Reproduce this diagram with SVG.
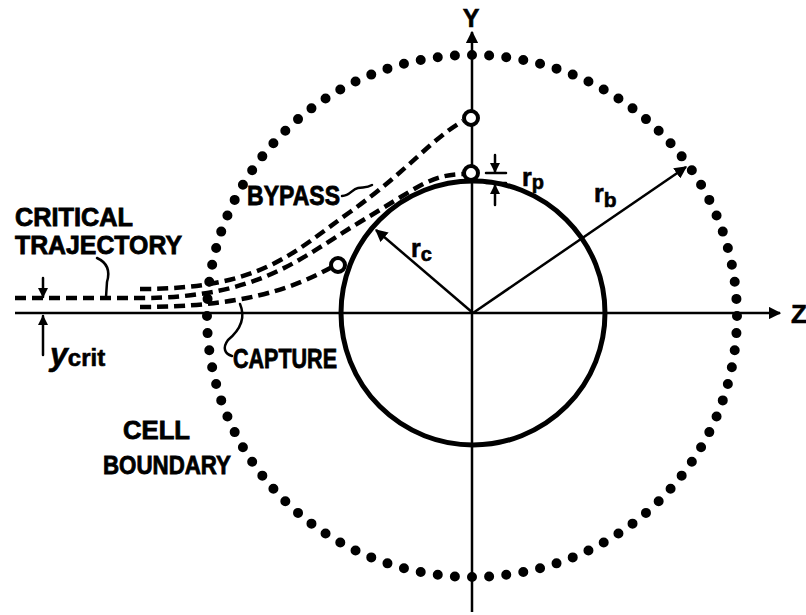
<svg xmlns="http://www.w3.org/2000/svg" width="806" height="615" viewBox="0 0 806 615">
<style>
.lbl{font-family:"Liberation Sans","DejaVu Sans",sans-serif;font-weight:bold;font-size:27px;fill:#000;stroke:#000;stroke-width:0.8}
.sm{font-size:25px}
.sym{font-family:"Liberation Sans","DejaVu Sans",sans-serif;font-weight:bold;fill:#000;stroke:#000;stroke-width:0.6}
.dash{fill:none;stroke:#000;stroke-width:4.5;stroke-dasharray:11 6}
.ln{fill:none;stroke:#000;stroke-width:2.5}
.lead{fill:none;stroke:#000;stroke-width:2.5;stroke-linecap:round}
</style>
<defs>
<marker id="ah" viewBox="0 0 10 10" refX="9" refY="5" markerWidth="5" markerHeight="5" orient="auto" markerUnits="strokeWidth">
<path d="M0,0 L10,5 L0,10 Z" fill="#000"/>
</marker>
<marker id="ahs" viewBox="0 0 10 10" refX="9" refY="5" markerWidth="4" markerHeight="4" orient="auto" markerUnits="strokeWidth">
<path d="M0,0 L10,5 L0,10 Z" fill="#000"/>
</marker>
</defs>
<rect width="806" height="615" fill="#fff"/>

<g id="cell-boundary">
<ellipse cx="472" cy="316" rx="265" ry="261" fill="none" stroke="#000" stroke-width="10" stroke-linecap="round" pathLength="96" stroke-dasharray="0 1"/>
</g>

<g id="collector">
<circle cx="473" cy="313" r="132" fill="none" stroke="#000" stroke-width="5"/>
</g>

<g id="connectors">
<line id="z-axis" class="ln" x1="15" y1="313" x2="780" y2="313" marker-end="url(#ah)"/>
<line id="y-axis" class="ln" x1="472" y1="612" x2="472" y2="32" marker-end="url(#ah)"/>
<line id="rc-line" class="ln" x1="473" y1="313" x2="376" y2="230" marker-end="url(#ah)"/>
<line id="rb-line" class="ln" x1="473" y1="313" x2="686" y2="167" marker-end="url(#ah)"/>
<path id="traj-bypass" class="dash" d="M140,289 C260,289 290,255 350,212 S430,140 463,121"/>
<path id="traj-critical" class="dash" d="M15,298 L140,298 C260,298 300,258 360,222 S430,175 463,174"/>
<path id="traj-capture" class="dash" d="M140,307 C240,307 290,290 332,267"/>
<path id="leader-critical" class="lead" d="M97,258 C108,263 110,272 107,282 L106,297"/>
<path id="leader-bypass" class="lead" d="M342,196 C350,196 352,189 358,188 C364,187 367,188 372,185"/>
<path id="leader-capture" class="lead" d="M240,304 C246,318 240,330 228,340 C222,348 225,354 232,356"/>
<line id="ycrit-down" class="lead" x1="43" y1="278" x2="43" y2="297" marker-end="url(#ahs)"/>
<line id="ycrit-up" class="lead" x1="43" y1="355" x2="43" y2="316" marker-end="url(#ahs)"/>
<line id="rp-down" class="lead" x1="495" y1="155" x2="495" y2="172" marker-end="url(#ahs)"/>
<line id="rp-up" class="lead" x1="495" y1="205" x2="495" y2="185" marker-end="url(#ahs)"/>
<line class="lead" x1="486" y1="173" x2="506" y2="173"/>
<line class="lead" x1="486" y1="183" x2="506" y2="183"/>
</g>

<g id="particle-bypass">
<circle cx="471" cy="118" r="7" fill="#fff" stroke="#000" stroke-width="4"/>
</g>
<g id="particle-critical">
<circle cx="471" cy="173" r="7" fill="#fff" stroke="#000" stroke-width="4"/>
</g>
<g id="particle-capture">
<circle cx="338" cy="265" r="7" fill="#fff" stroke="#000" stroke-width="4"/>
</g>

<g id="labels">
<text class="lbl sm" x="15" y="226" textLength="118" lengthAdjust="spacingAndGlyphs">CRITICAL</text>
<text class="lbl sm" x="15" y="254" textLength="167" lengthAdjust="spacingAndGlyphs">TRAJECTORY</text>
<text class="lbl" x="247" y="205" textLength="93" lengthAdjust="spacingAndGlyphs">BYPASS</text>
<text class="lbl" x="233" y="368" textLength="104" lengthAdjust="spacingAndGlyphs">CAPTURE</text>
<text class="lbl sm" x="123" y="439" textLength="67" lengthAdjust="spacingAndGlyphs">CELL</text>
<text class="lbl sm" x="103" y="474" textLength="128" lengthAdjust="spacingAndGlyphs">BOUNDARY</text>
<text class="sym" x="471" y="27" font-size="25" text-anchor="middle">Y</text>
<text class="sym" x="791" y="323" font-size="26">Z</text>
<text class="sym" x="411" y="257" font-size="25">r<tspan font-size="20" dy="4">c</tspan></text>
<text class="sym" x="594" y="202" font-size="25">r<tspan font-size="21" dy="5">b</tspan></text>
<text class="sym" x="522" y="186" font-size="25">r<tspan font-size="20" dy="3">p</tspan></text>
<text class="sym" x="50" y="365" font-size="32" font-style="italic" font-family="'Liberation Serif',serif">y<tspan font-family="'Liberation Sans',sans-serif" font-style="normal" font-size="24" dy="1">crit</tspan></text>
</g>
</svg>
